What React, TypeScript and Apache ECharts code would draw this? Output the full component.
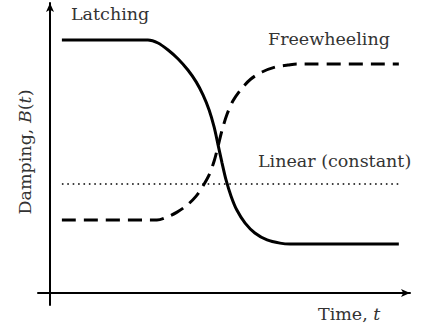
import React, { useEffect, useRef } from "react";
import * as echarts from "echarts";

// Time (t) and damping B(t) readings, in arbitrary units (0..10)
const latchingT = [0.33, 2.72, 3.0, 3.28, 3.56, 3.83, 4.06, 4.25, 4.42, 4.56, 4.67, 4.78, 4.89, 5.03, 5.19, 5.42, 5.69, 6.03, 6.39, 6.67, 9.69];
const latchingB = [8.72, 8.72, 8.62, 8.38, 8.07, 7.69, 7.28, 6.83, 6.31, 5.72, 5.1, 4.48, 3.9, 3.34, 2.86, 2.41, 2.07, 1.83, 1.72, 1.69, 1.69];

const freeT = [0.33, 2.97, 3.25, 3.53, 3.81, 4.06, 4.25, 4.42, 4.56, 4.67, 4.78, 4.92, 5.08, 5.31, 5.58, 5.89, 6.25, 6.61, 6.86, 9.69];
const freeB = [2.52, 2.52, 2.62, 2.79, 3.03, 3.34, 3.69, 4.07, 4.55, 5.07, 5.62, 6.17, 6.62, 7.03, 7.38, 7.62, 7.79, 7.86, 7.9, 7.9];

const linearT = [0.33, 9.69];
const linearB = [3.76, 3.76];

const labels = {
  latching: "Latching",
  free: "Freewheeling",
  linear: "Linear (constant)",
};

const zip = (a: number[], b: number[]) => a.map((v, i) => [v, b[i]]);

export default function App() {
  const ref = useRef<HTMLDivElement>(null);
  useEffect(() => {
    if (!ref.current) return;
    const chart = echarts.init(ref.current, undefined, { renderer: "svg" });
    const family = "DejaVu Serif";
    const txtColor = "#333";
    const base = { fontFamily: family, fontSize: 17.5, fill: txtColor, verticalAlign: "middle" };
    const ital = { fontStyle: "italic", fontFamily: family, fontSize: 17.5, fill: txtColor, color: txtColor };
    chart.setOption({
      animation: false,
      backgroundColor: "#fff",
      grid: { left: 38, right: 12, top: 3, bottom: 25 },
      xAxis: {
        type: "value",
        min: -12 / 36,
        max: 10,
        splitLine: { show: false },
        axisTick: { show: false },
        axisLabel: { show: false },
        axisLine: {
          show: true,
          onZero: true,
          symbol: ["none", "arrow"],
          symbolSize: [6, 9],
          lineStyle: { color: "#000", width: 2 },
        },
      },
      yAxis: {
        type: "value",
        min: -12 / 29,
        max: 10,
        splitLine: { show: false },
        axisTick: { show: false },
        axisLabel: { show: false },
        axisLine: {
          show: true,
          onZero: true,
          symbol: ["none", "arrow"],
          symbolSize: [6, 9],
          lineStyle: { color: "#000", width: 2 },
        },
      },
      series: [
        {
          name: labels.linear,
          type: "line",
          data: zip(linearT, linearB),
          showSymbol: false,
          lineStyle: { color: "#000", width: 1.6, type: [1.6, 3.8] },
        },
        {
          name: labels.free,
          type: "line",
          data: zip(freeT, freeB),
          smooth: 0.3,
          showSymbol: false,
          lineStyle: { color: "#000", width: 3, type: [14, 8] },
        },
        {
          name: labels.latching,
          type: "line",
          data: zip(latchingT, latchingB),
          smooth: 0.3,
          showSymbol: false,
          lineStyle: { color: "#000", width: 3 },
        },
      ],
      graphic: [
        { type: "text", x: 71, y: 14, style: { ...base, text: labels.latching } },
        { type: "text", x: 268, y: 39, style: { ...base, text: labels.free } },
        { type: "text", x: 258, y: 161, style: { ...base, text: labels.linear } },
        {
          type: "text",
          x: 318,
          y: 314,
          style: { ...base, text: "Time, {i|t}", rich: { i: ital } },
        },
        {
          type: "text",
          x: 25,
          y: 152,
          rotation: Math.PI / 2,
          style: { ...base, text: "Damping, {i|B}({i|t})", align: "center", rich: { i: ital } },
        },
      ],
    });
    return () => chart.dispose();
  }, []);
  return <div ref={ref} style={{ width: 422, height: 330, position: "absolute", left: 0, top: 0 }} />;
}
